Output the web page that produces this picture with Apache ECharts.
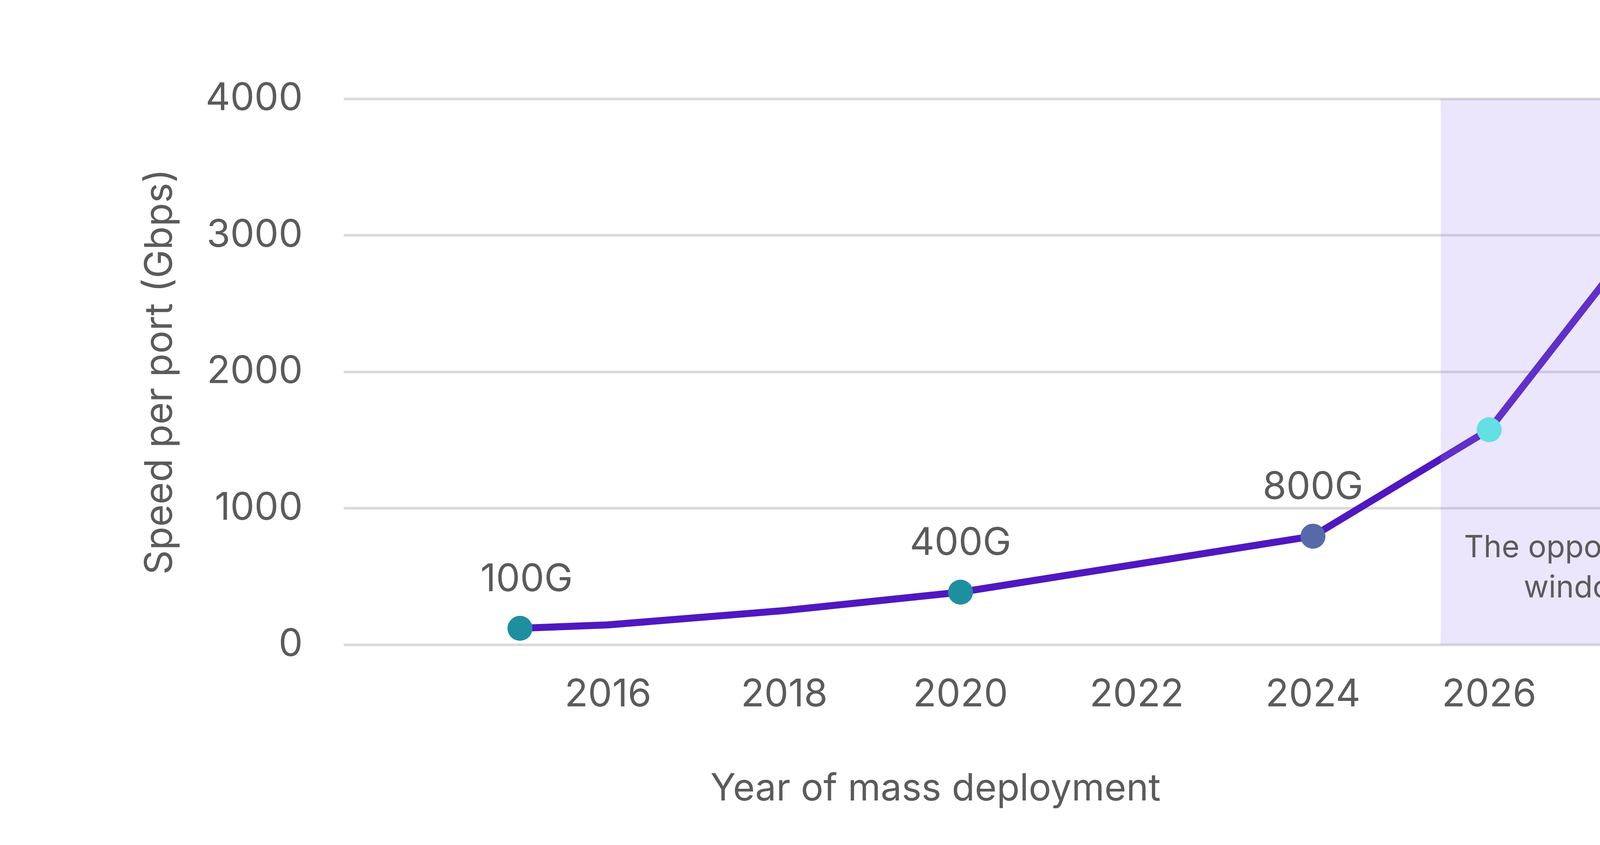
<!DOCTYPE html>
<html>
<head>
<meta charset="utf-8">
<title>Speed per port</title>
<script src="https://cdn.jsdelivr.net/npm/echarts@6/dist/echarts.min.js"></script>
<style>
    html, body { margin: 0; padding: 0; background: #ffffff; }
    #chart { width: 4776px; height: 2164px; }
</style>
</head>
<body>
<div id="chart"></div>
<script>
// data
const lineYears = [2015, 2016, 2018, 2020, 2022, 2024, 2026, 2028];
const lineSpeeds = [120, 145, 250, 385, 590, 795, 1575, 3230];
const pointYears = [2015, 2020, 2024, 2026, 2028];
const pointSpeeds = [120, 385, 795, 1575, 3230];
const pointLabels = ['100G', '400G', '800G', '', ''];
const yTicks = [0, 1000, 2000, 3000, 4000];
const xTickYears = [2016, 2018, 2020, 2022, 2024, 2026, 2028];
const windowYears = [2025.45, 2028.6];
const windowText = 'The opportunity\nwindow';

// styles
const FONT = 'Inter';
const TEXT = '#5b5b5b';
const LINE = '#5018c0';
const POINT_COLORS = ['#1e8f9e', '#1e8f9e', '#566aaa', '#62e0e4', '#62e0e4'];

let chart = echarts.init(document.getElementById('chart'));

let lineData = lineYears.map((y, i) => [y, lineSpeeds[i]]);
let pointData = pointYears.map((y, i) => {
    let item = {
        value: [y, pointSpeeds[i]],
        name: pointLabels[i],
        itemStyle: { color: POINT_COLORS[i], opacity: 1 }
    };
    if (i === 0) {
        item.label = { offset: [17, 0] };
    }
    return item;
});

let option = {
    backgroundColor: '#ffffff',
    animation: false,
    textStyle: { fontFamily: FONT, color: TEXT },
    grid: {
        left: 880,
        right: 287,
        top: 253,
        bottom: 513
    },
    xAxis: {
        type: 'value',
        min: 2013,
        max: 2029,
        interval: 1,
        axisLine: { show: false },
        axisTick: { show: false },
        splitLine: { show: false },
        axisLabel: {
            fontFamily: FONT,
            fontSize: 98,
            color: TEXT,
            margin: 70,
            lineHeight: 118,
            formatter: function (v) {
                return xTickYears.indexOf(v) >= 0 ? String(v) : '';
            }
        },
        name: 'Year of mass deployment',
        nameLocation: 'middle',
        nameGap: 312,
        nameTextStyle: {
            fontFamily: FONT,
            fontSize: 96,
            color: TEXT,
            lineHeight: 116,
            padding: [0, 579, 0, 0]
        }
    },
    yAxis: {
        type: 'value',
        min: yTicks[0],
        max: yTicks[yTicks.length - 1],
        interval: 1000,
        axisLine: { show: false },
        axisTick: { show: false },
        axisLabel: {
            fontFamily: FONT,
            fontSize: 98,
            color: TEXT,
            margin: 105,
            padding: [0, 0, 22, 0],
            formatter: function (v) {
                return String(v);
            }
        },
        splitLine: {
            lineStyle: { color: '#d9d9d9', width: 6.5 }
        },
        name: 'Speed per port (Gbps)',
        nameLocation: 'middle',
        nameGap: 420,
        nameTextStyle: {
            fontFamily: FONT,
            fontSize: 98,
            color: TEXT
        }
    },
    series: [
        {
            name: 'speed',
            type: 'line',
            z: 2,
            data: lineData,
            showSymbol: false,
            symbol: 'none',
            lineStyle: { color: LINE, width: 18, join: 'round', cap: 'butt' },
            emphasis: { disabled: true }
        },
        {
            name: 'window',
            type: 'line',
            z: 3,
            data: [],
            markArea: {
                z: 3,
                silent: true,
                itemStyle: { color: 'rgba(160,136,240,0.21)' },
                label: {
                    show: true,
                    position: ['50%', '86%'],
                    align: 'center',
                    verticalAlign: 'middle',
                    fontFamily: FONT,
                    fontSize: 78,
                    lineHeight: 103,
                    color: TEXT
                },
                data: [[
                    { name: windowText, xAxis: windowYears[0], yAxis: yTicks[0] },
                    { xAxis: windowYears[1], yAxis: yTicks[yTicks.length - 1] }
                ]]
            }
        },
        {
            name: 'milestones',
            type: 'scatter',
            z: 4,
            symbolSize: 64,
            data: pointData,
            itemStyle: { opacity: 1 },
            emphasis: { disabled: true },
            label: {
                show: true,
                position: 'top',
                distance: 44,
                fontFamily: FONT,
                fontSize: 98,
                color: TEXT,
                formatter: '{b}'
            }
        }
    ]
};

chart.setOption(option);
</script>
</body>
</html>
